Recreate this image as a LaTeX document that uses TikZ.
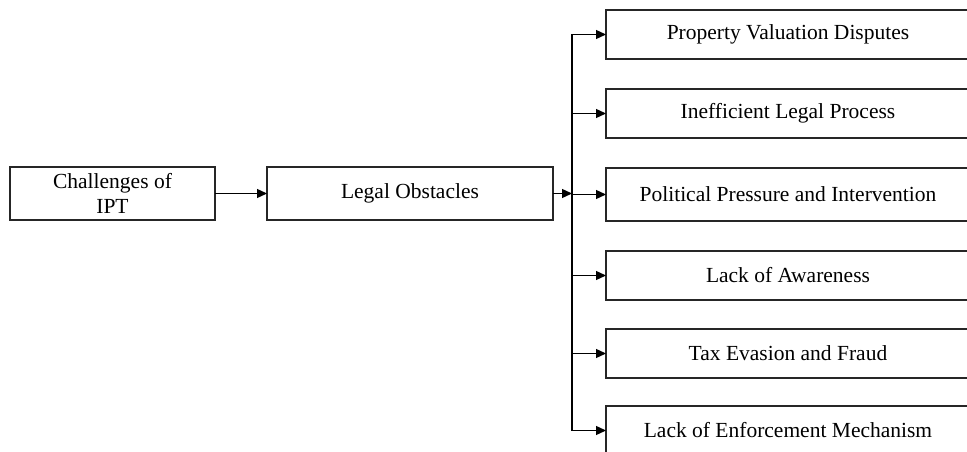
\documentclass[tikz,border=0pt]{standalone}
\usepackage{fontspec}
\setmainfont{Liberation Serif}
\usepackage{tikz}
\usetikzlibrary{arrows.meta, positioning}
\tikzset{
	box/.style={
		rectangle,
		draw=black!85,
		line width=1.4pt,
		outer sep=0pt,
		align=center,
		text centered,
		font=\fontsize{21.5}{25}\selectfont
	},
	topic/.style={box, minimum height=53pt},
	cause/.style={box, minimum width=364pt, minimum height=49pt},
	link/.style={-{Triangle[length=10pt,width=9pt]}, line width=1.3pt},
}

\begin{document}
\begin{tikzpicture}[x=1pt, y=-1pt]
		\useasboundingbox (0,0) rectangle (967,452);

		% the left chain
		\node[topic, minimum width=205pt] (ipt) at (112.5,193.5) {Challenges of\\IPT};
		\node[topic, minimum width=286pt] (legal) at (410,193.5) {Legal Obstacles};

		% the obstacles
		\node[cause, anchor=north west] (valuation) at (606,10) {Property Valuation Disputes};
		\node[cause, below=30pt of valuation] (process) {Inefficient Legal Process};
		\node[cause, below=30pt of process, minimum height=53pt] (pressure) {Political Pressure and Intervention};
		\node[cause, below=30pt of pressure] (awareness) {Lack of Awareness};
		\node[cause, below=29pt of awareness] (fraud) {Tax Evasion and Fraud};
		\node[cause, below=28pt of fraud] (enforcement) {Lack of Enforcement Mechanism};

		% the arrows
		\coordinate (bus) at (572,0);
		\draw[link] (ipt.east) -- (legal.west);
		\draw[link] (legal.east) -- (bus |- legal.east);
		\draw[line width=2.8pt] (bus |- valuation.west) -- (bus |- enforcement.west);
		\draw[link] (bus |- valuation.west) -- (valuation.west);
		\draw[link] (bus |- process.west) -- (process.west);
		\draw[link] (bus |- pressure.west) -- (pressure.west);
		\draw[link] (bus |- awareness.west) -- (awareness.west);
		\draw[link] (bus |- fraud.west) -- (fraud.west);
		\draw[link] (bus |- enforcement.west) -- (enforcement.west);
	\end{tikzpicture}
\end{document}
